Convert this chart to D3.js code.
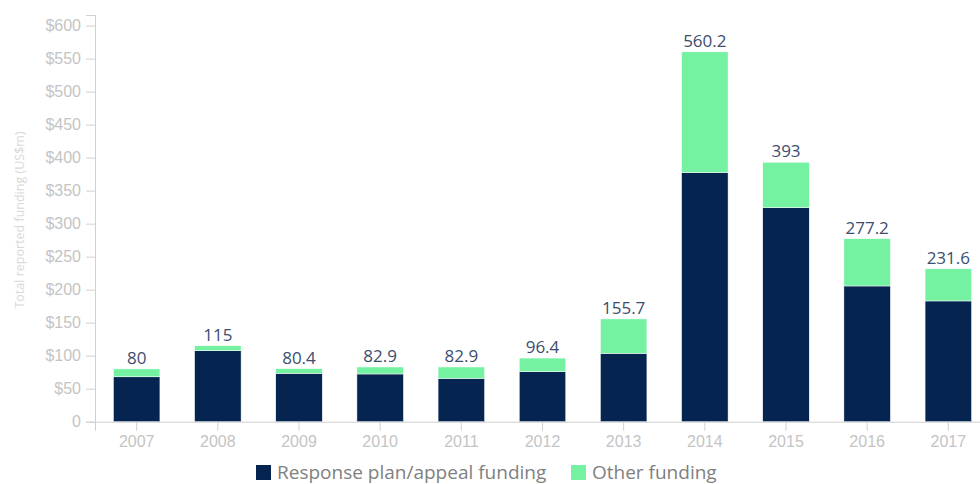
<!DOCTYPE html>
<html>
<head>
<meta charset="utf-8">
<script src="https://cdn.jsdelivr.net/npm/d3@7"></script>
<style>
  body { margin: 0; background: #fff; }
  svg { display: block; font-family: 'Open Sans', sans-serif; }
  .axis path, .axis line { stroke: #d0d0d0; }
  .axis text { fill: #c4c4c4; font-size: 16px; }
</style>
</head>
<body>
<div id="chart"></div>
<script>
var years = ['2007', '2008', '2009', '2010', '2011', '2012', '2013', '2014', '2015', '2016', '2017'];
var planFunding = [68, 107.5, 73.3, 72.3, 65.7, 75.8, 103.6, 377.3, 324.2, 205.6, 182.9];
var totalFunding = [80, 115, 80.4, 82.9, 82.9, 96.4, 155.7, 560.2, 393, 277.2, 231.6];
var yTicks = [0, 50, 100, 150, 200, 250, 300, 350, 400, 450, 500, 550, 600];
var seriesNames = ['Response plan/appeal funding', 'Other funding'];
var colors = ['#062450', '#74f2a2'];

(() => {
  var width = 980, height = 484;
  var margin = { top: 15, left: 95, bottom: 62.3 };

  var svg = d3.select('#chart')
    .append('svg')
    .attr('width', width)
    .attr('height', height);

  var x = d3.scaleBand()
    .domain(years)
    .range([margin.left, 990])
    .paddingInner(0.427)
    .paddingOuter(0.227);

  var y = d3.scaleLinear()
    .domain([0, 616])
    .range([height - margin.bottom, margin.top]);

  var rows = years.map((yr, i) => ({
    year: yr,
    plan: planFunding[i],
    other: totalFunding[i] - planFunding[i],
    total: totalFunding[i]
  }));

  var stack = d3.stack().keys(['plan', 'other'])(rows);

  // axes
  svg.append('g')
    .attr('class', 'axis')
    .attr('transform', 'translate(' + margin.left + ',0)')
    .call(d3.axisLeft(y).tickValues(yTicks).tickSize(9).tickPadding(5)
      .tickFormat(d => d === 0 ? '0' : '$' + d));

  svg.append('g')
    .attr('class', 'axis')
    .attr('transform', 'translate(0,' + y(0) + ')')
    .call(d3.axisBottom(x).tickSize(9).tickPadding(5));

  // bars
  svg.append('g')
    .selectAll('g')
    .data(stack)
    .enter()
      .append('g')
      .attr('fill', (d, i) => colors[i])
      .selectAll('rect')
      .data(d => d)
      .enter()
        .append('rect')
        .attr('x', d => x(d.data.year))
        .attr('width', x.bandwidth())
        .attr('y', d => y(d[1]))
        .attr('height', d => y(d[0]) - y(d[1]))
        .attr('stroke', '#fff')
        .attr('stroke-width', 0.5);

  // value labels
  svg.append('g')
    .selectAll('text')
    .data(rows)
    .enter()
      .append('text')
      .attr('x', d => x(d.year) + x.bandwidth() / 2)
      .attr('y', d => y(d.total) - 5)
      .attr('text-anchor', 'middle')
      .attr('fill', '#3c4d6e')
      .attr('font-size', '17px')
      .text(d => d.total);

  // y title
  svg.append('text')
    .attr('transform', 'translate(24,' + 220 + ') rotate(-90)')
    .attr('text-anchor', 'middle')
    .attr('fill', '#d8d8d8')
    .attr('font-size', '12.5px')
    .text('Total reported funding (US$m)');

  // legend
  var legend = svg.append('g').attr('transform', 'translate(256,465)');
  var offsets = [0, 315];
  seriesNames.forEach((name, i) => {
    var item = legend.append('g').attr('transform', 'translate(' + offsets[i] + ',0)');
    item.append('rect')
      .attr('width', 15).attr('height', 15)
      .attr('fill', colors[i]);
    item.append('text')
      .attr('x', 21).attr('y', 14)
      .attr('fill', '#808080')
      .attr('font-size', '19px')
      .text(name);
  });
})();
</script>
</body>
</html>
